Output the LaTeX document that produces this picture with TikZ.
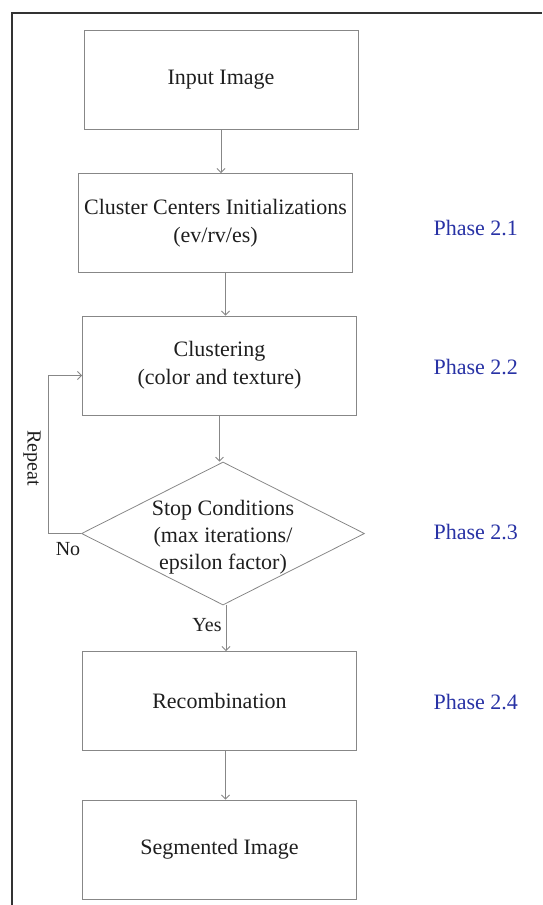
\documentclass[tikz,border=0pt]{standalone}
\usepackage{fontspec}
\setmainfont{Liberation Serif}
\usepackage{xcolor}
\usepackage{tikz}
\usetikzlibrary{shapes,shapes.geometric,arrows.meta,positioning,calc}

\definecolor{linegray}{RGB}{135,135,135}
\definecolor{phaseblue}{RGB}{40,50,165}
\definecolor{textdark}{RGB}{30,30,30}

\tikzset{
    stepbox/.style={draw=linegray, line width=0.9pt, minimum width=274pt, minimum height=99pt,
        align=center, text=textdark, font=\fontsize{22}{28}\selectfont},
    flow/.style={draw=linegray, line width=0.8pt, -{Straight Barb[length=4pt,width=8pt]}},
    phase/.style={anchor=west, text=phaseblue, font=\fontsize{22}{28}\selectfont},
    tag/.style={text=textdark, font=\fontsize{20}{24}\selectfont}
}

\begin{document}
\begin{tikzpicture}[x=1pt, y=-1pt]
    \useasboundingbox (0,0) rectangle (542,905);

    % Frame (cut at right and bottom)
    \draw [line width=1.4pt, black!80] (12,905) -- (12,13) -- (542,13);

    % Steps
    \node[stepbox] (input) at (221,79.5) {Input Image};
    \node[stepbox] (init) at (215.5,223) {Cluster Centers Initializations\\(ev/rv/es)};
    \node[stepbox] (clus) at (219.5,365.5) {Clustering\\(color and texture)};
    \node[draw=linegray, line width=0.8pt, shape=diamond, minimum width=283pt, minimum height=143pt,
        inner sep=0pt] (stop) at (223,533.5) {};
    \node[align=center, text=textdark, font=\fontsize{22}{27}\selectfont] (stoptxt) at (223,537.5)
        {Stop Conditions\\(max iterations/\\epsilon factor)};
    \node[stepbox] (recomb) at (219.5,701) {Recombination};
    \node[stepbox] (seg) at (219.5,849.5) {Segmented Image};

    % Phases
    \foreach \y/\n in {228/1, 367/2, 532/3, 702/4} {
        \node[phase] (phase\n) at (430,\y) {Phase 2.\n};
    }

    % Connectors
    \draw[flow] (input.south) -- (input.south |- init.north);
    \draw[flow] ([xshift=10pt]init.south) -- ([xshift=10pt]init.south |- clus.north);
    \draw[flow] (clus.south) -- (clus.south |- stop.north);
    \draw[flow] ([xshift=3pt]stop.south) -- ([xshift=3pt]stop.south |- recomb.north);
    \draw[flow] ([xshift=6pt]recomb.south) -- ([xshift=6pt]recomb.south |- seg.north);

    % Repeat loop
    \draw[flow] (stop.west) -- ++(-33,0) coordinate (loop) |- ([yshift=-10pt]clus.west);
    \node[tag, rotate=-90] (repeat) at (32,458) {Repeat};
    \node[tag] (no) at (68,549) {No};
    \node[tag] (yes) at (207,625) {Yes};
\end{tikzpicture}
\end{document}
